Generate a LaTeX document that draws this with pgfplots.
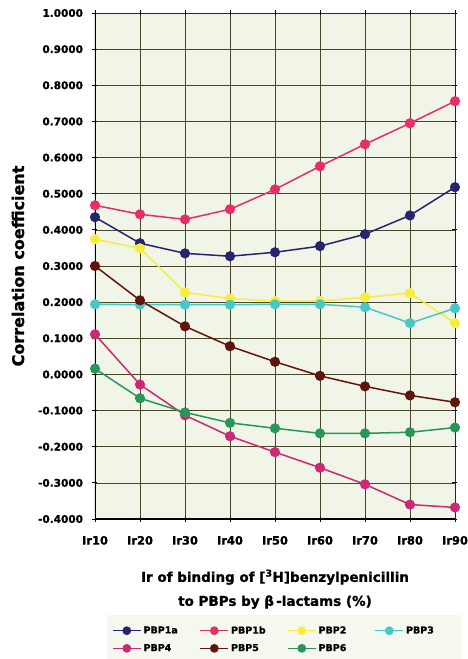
\documentclass[border=0pt]{standalone}
\usepackage{fontspec}
\setmainfont{DejaVu Sans}[BoldFeatures={FakeBold=1.2}]
\usepackage{pgfplots}
\pgfplotsset{compat=1.18}
\definecolor{bgc}{RGB}{240,245,232}
\definecolor{gridc}{RGB}{70,70,40}
\definecolor{cA}{RGB}{40,35,110}
\definecolor{cB}{RGB}{232,45,105}
\definecolor{cC}{RGB}{248,236,60}
\definecolor{cD}{RGB}{70,200,200}
\definecolor{cE}{RGB}{205,40,115}
\definecolor{cF}{RGB}{95,20,12}
\definecolor{cG}{RGB}{40,150,90}
\begin{document}
\begin{tikzpicture}
\useasboundingbox (-95pt,-140pt) rectangle (373pt,519pt);
\begin{axis}[
  at={(0,0)}, anchor=south west,
  scale only axis, width=360pt, height=506pt,
  xmin=0, xmax=8, ymin=-0.4, ymax=1.0,
  axis background/.style={fill=bgc},
  xtick={0,1,2,3,4,5,6,7,8},
  xticklabels={Ir10,Ir20,Ir30,Ir40,Ir50,Ir60,Ir70,Ir80,Ir90},
  ytick={-0.4,-0.3,-0.2,-0.1,0,0.1,0.2,0.3,0.4,0.5,0.6,0.7,0.8,0.9,1.0},
  grid=major,
  major grid style={color=gridc, line width=0.6pt},
  axis line style={line width=0.9pt, color=black!85},
  tick align=center, major tick length=5pt,
  tick style={line width=0.9pt, black},
  /pgf/number format/.cd, fixed, fixed zerofill, precision=4, assume math mode=true,
  /pgfplots/.cd,
  yticklabel style={font=\bfseries\fontsize{10.5}{10.5}\selectfont, xshift=-6pt},
  xticklabel style={font=\bfseries\fontsize{11.5}{11.5}\selectfont, yshift=-11pt},
  ylabel={Correlation coefficient},
  ylabel style={font=\bfseries\fontsize{16}{16}\selectfont, yshift=7pt},
  xlabel={Ir of binding of [\textsuperscript{3}H]benzylpenicillin\\ to PBPs by β\,-lactams (\%)},
  xlabel style={align=center, font=\bfseries\fontsize{13.5}{24}\selectfont, yshift=-18pt},
  legend columns=4,
  legend style={at={(0.033,-0.190)}, anchor=north west, fill=bgc!70!white, draw=none,
    font=\bfseries\fontsize{9.5}{9.5}\selectfont,
    /tikz/every even column/.append style={column sep=6pt},
    row sep=5pt, inner xsep=5pt, inner ysep=9pt},
  legend cell align=left,
  legend image code/.code={\draw[mark repeat=2,mark phase=2,#1] plot coordinates {(0pt,0pt)(14pt,0pt)(28pt,0pt)};},
  legend image post style={mark size=3.6pt, line width=1.5pt},
  every axis plot/.append style={line width=1.5pt, mark=*, mark size=4.3pt, mark options={solid}},
]
\addplot[cA, mark options={fill=cA}] coordinates {(0,0.435)(1,0.363)(2,0.335)(3,0.327)(4,0.338)(5,0.355)(6,0.388)(7,0.440)(8,0.518)};
\addplot[cB, mark options={fill=cB}] coordinates {(0,0.468)(1,0.443)(2,0.429)(3,0.457)(4,0.512)(5,0.576)(6,0.637)(7,0.695)(8,0.756)};
\addplot[cC, mark options={fill=cC}] coordinates {(0,0.374)(1,0.349)(2,0.227)(3,0.210)(4,0.203)(5,0.203)(6,0.213)(7,0.225)(8,0.142)};
\addplot[cD, mark options={fill=cD}] coordinates {(0,0.194)(1,0.193)(2,0.193)(3,0.193)(4,0.194)(5,0.194)(6,0.186)(7,0.142)(8,0.183)};
\addplot[cE, mark options={fill=cE}] coordinates {(0,0.111)(1,-0.028)(2,-0.113)(3,-0.171)(4,-0.215)(5,-0.258)(6,-0.304)(7,-0.360)(8,-0.368)};
\addplot[cF, mark options={fill=cF}] coordinates {(0,0.300)(1,0.205)(2,0.133)(3,0.078)(4,0.035)(5,-0.004)(6,-0.033)(7,-0.058)(8,-0.077)};
\addplot[cG, mark options={fill=cG}] coordinates {(0,0.016)(1,-0.066)(2,-0.105)(3,-0.134)(4,-0.149)(5,-0.163)(6,-0.163)(7,-0.160)(8,-0.147)};
\legend{\makebox[48pt][l]{PBP1a},\makebox[48pt][l]{PBP1b},\makebox[48pt][l]{PBP2},\makebox[48pt][l]{PBP3},\makebox[48pt][l]{PBP4},\makebox[48pt][l]{PBP5},\makebox[48pt][l]{PBP6}}
\draw[line width=1.8pt, black] (rel axis cs:0,1) -- (rel axis cs:0,0) -- (rel axis cs:1,0);
\end{axis}
\end{tikzpicture}
\end{document}
